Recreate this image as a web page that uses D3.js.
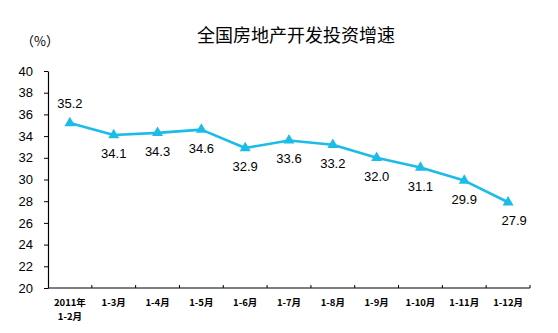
<!DOCTYPE html>
<html>
<head>
<meta charset="utf-8">
<script src="https://cdn.jsdelivr.net/npm/d3@7"></script>
<style>
  html, body { margin: 0; padding: 0; background: #fff; }
  svg { display: block; }
</style>
</head>
<body>
<svg id="chart" width="558" height="333"></svg>
<script>
// Cumulative growth of national real-estate development investment, 2011
const categories = ["2011年\n1-2月", "1-3月", "1-4月", "1-5月", "1-6月", "1-7月", "1-8月", "1-9月", "1-10月", "1-11月", "1-12月"];
const growth = [35.2, 34.1, 34.3, 34.6, 32.9, 33.6, 33.2, 32.0, 31.1, 29.9, 27.9];
const yTicks = [20, 22, 24, 26, 28, 30, 32, 34, 36, 38, 40];
const titleText = "全国房地产开发投资增速";
const unitText = "（%）";

const svg = d3.select("#chart");
const margin = { left: 48, right: 28, top: 71, bottom: 45 };
const W = 558, H = 333;
const lineColor = "#1BBCE8";

const x = d3.scaleBand()
  .domain(categories)
  .range([margin.left, W - margin.right])
  .paddingInner(0).paddingOuter(0);

const y = d3.scaleLinear()
  .domain([20, 40])
  .range([H - margin.bottom, margin.top]);

// Title and unit
svg.append("text")
  .attr("x", 296).attr("y", 42)
  .attr("text-anchor", "middle")
  .attr("font-family", "'Noto Sans CJK SC', sans-serif")
  .attr("font-size", 18)
  .attr("fill", "#000")
  .text(titleText);

svg.append("text")
  .attr("x", 21).attr("y", 46)
  .attr("font-family", "'Noto Sans CJK SC', sans-serif")
  .attr("font-size", 13)
  .attr("fill", "#000")
  .text(unitText);

// Y axis
const yAxis = svg.append("g")
  .attr("transform", `translate(${margin.left},0)`)
  .call(d3.axisLeft(y).tickValues(yTicks).tickSize(4).tickSizeOuter(0).tickPadding(11));
yAxis.select(".domain").attr("stroke", "#000").attr("stroke-width", 1.2);
yAxis.selectAll(".tick line").attr("stroke", "#000");
yAxis.selectAll(".tick text")
  .attr("font-family", "'Liberation Sans', Arial, sans-serif")
  .attr("font-size", 13)
  .attr("fill", "#000");

// X axis with inward ticks at category boundaries
const xBase = y(20);
svg.append("line")
  .attr("x1", margin.left).attr("x2", W - margin.right)
  .attr("y1", xBase).attr("y2", xBase)
  .attr("stroke", "#000").attr("stroke-width", 1.2);
svg.append("g").selectAll("line")
  .data(categories)
  .join("line")
  .attr("x1", d => x(d) + x.bandwidth()).attr("x2", d => x(d) + x.bandwidth())
  .attr("y1", xBase).attr("y2", xBase - 3)
  .attr("stroke", "#000");

const xl = svg.append("g").selectAll("text")
  .data(categories)
  .join("text")
  .attr("x", d => x(d) + x.bandwidth() / 2)
  .attr("y", xBase + 18)
  .attr("text-anchor", "middle")
  .attr("font-family", "'Noto Sans CJK SC', sans-serif")
  .attr("font-size", 9.5)
  .attr("font-weight", "bold")
  .attr("fill", "#000");
xl.each(function(d) {
  const parts = d.split("\n");
  const t = d3.select(this);
  parts.forEach((p, i) => {
    t.append("tspan")
      .attr("x", x(d) + x.bandwidth() / 2)
      .attr("dy", i === 0 ? 0 : 14)
      .text(p);
  });
});

// Series line
const pts = categories.map((c, i) => [x(c) + x.bandwidth() / 2, y(growth[i])]);
svg.append("path")
  .attr("d", d3.line()(pts))
  .attr("fill", "none")
  .attr("stroke", lineColor)
  .attr("stroke-width", 2.6)
  .attr("stroke-linejoin", "round");

// Triangle markers
const tri = d3.symbol().type(d3.symbolTriangle).size(52);
svg.append("g").selectAll("path")
  .data(pts)
  .join("path")
  .attr("transform", d => `translate(${d[0]},${d[1]})`)
  .attr("d", tri)
  .attr("fill", lineColor);

// Value labels: first above the point, the rest below
svg.append("g").selectAll("text")
  .data(growth)
  .join("text")
  .attr("x", (v, i) => pts[i][0] + (i === growth.length - 1 ? 6 : 0))
  .attr("y", (v, i) => i === 0 ? pts[i][1] - 15 : pts[i][1] + 23)
  .attr("text-anchor", "middle")
  .attr("font-family", "'Liberation Sans', Arial, sans-serif")
  .attr("font-size", 13)
  .attr("fill", "#000")
  .text(v => v.toFixed(1));
</script>
</body>
</html>
